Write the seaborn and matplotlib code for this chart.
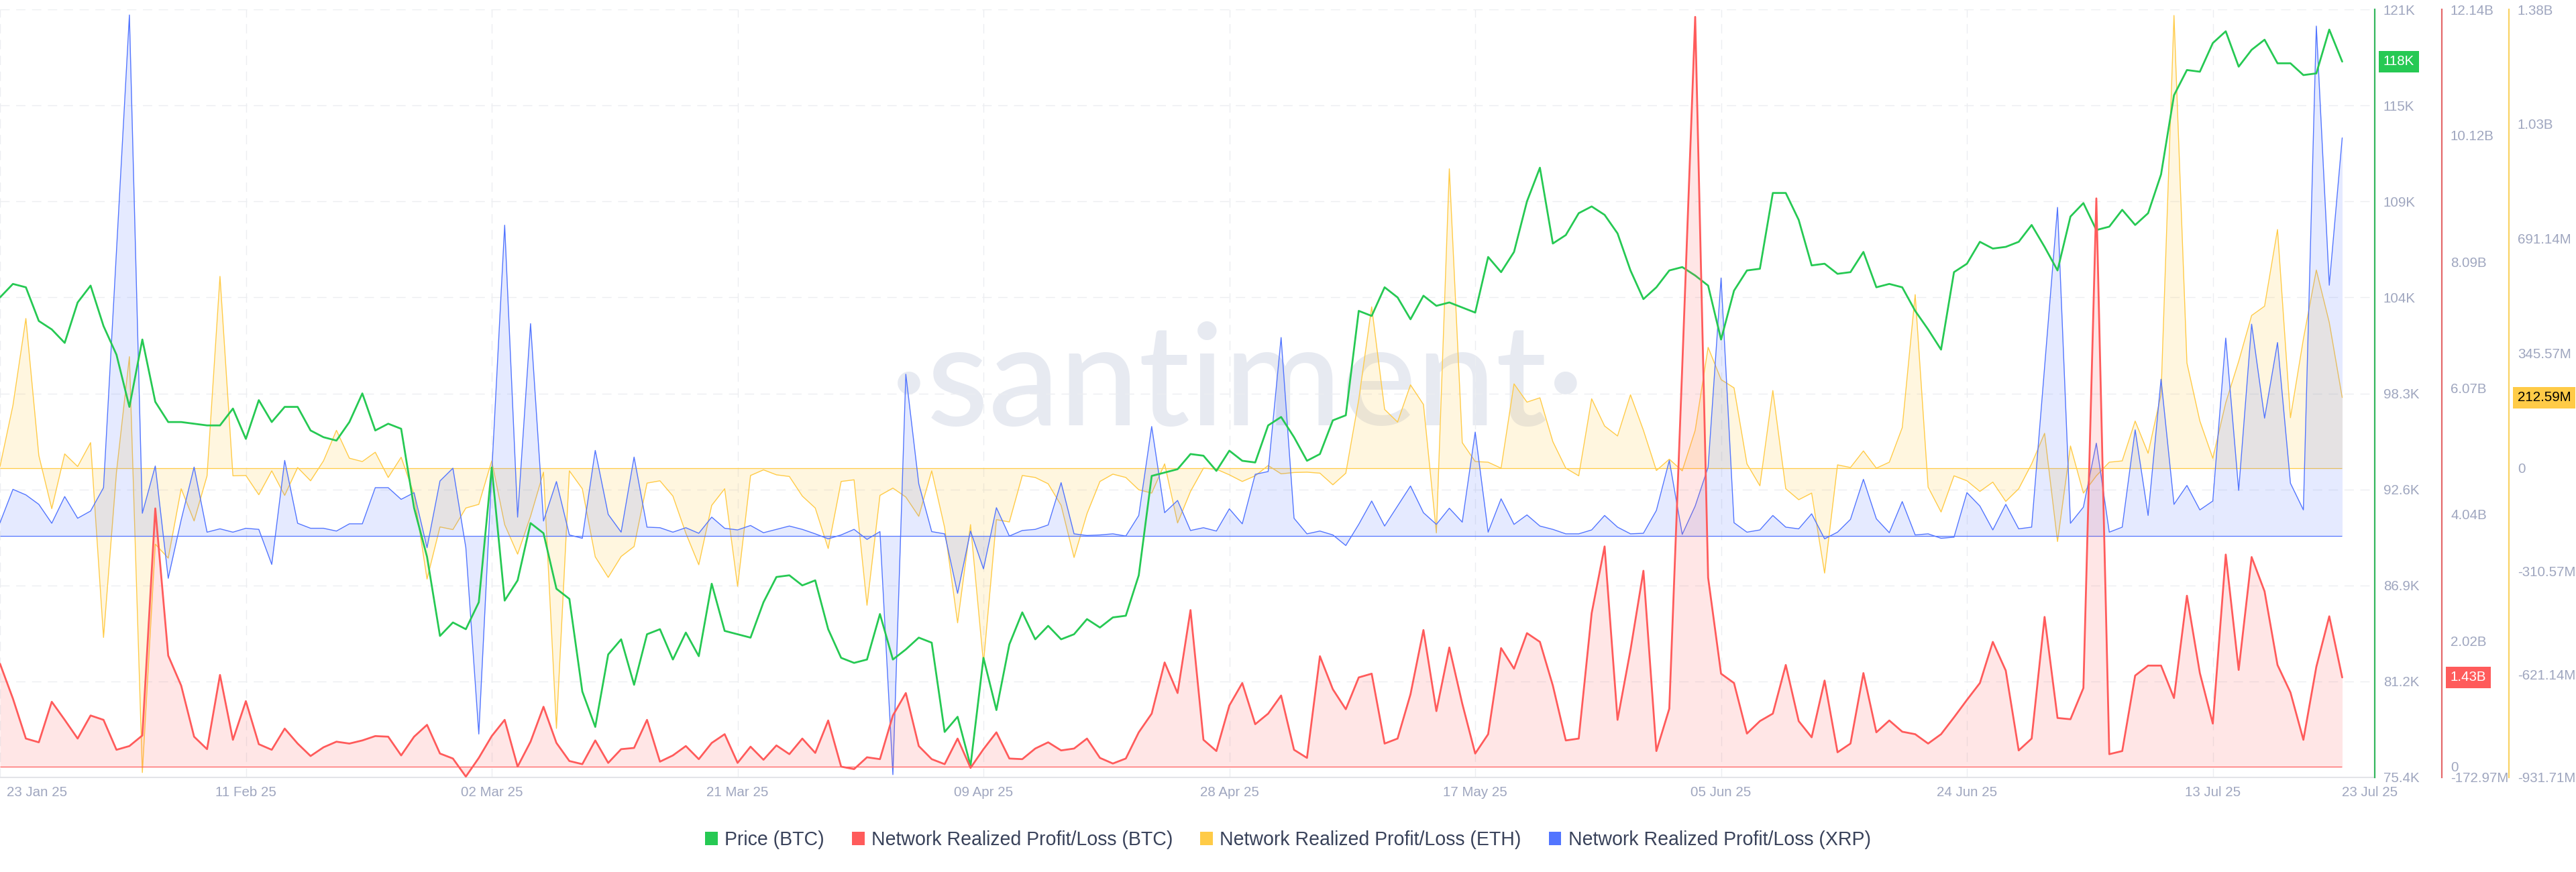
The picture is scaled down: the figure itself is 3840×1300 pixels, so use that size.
import matplotlib
matplotlib.use("Agg")
import matplotlib.pyplot as plt
from matplotlib.patches import Patch
from matplotlib.transforms import ScaledTranslation
import numpy as np
import pandas as pd
import seaborn as sns

start_date = "2025-01-23"
price_btc = [103.9,104.7,104.5,102.5,102.0,101.2,103.6,104.6,102.2,100.5,97.4,101.4,97.7,96.5,96.5,96.4,96.3,96.3,97.3,95.5,
97.8,96.5,97.4,97.4,96.0,95.6,95.4,96.5,98.2,96.0,96.4,96.1,91.4,88.5,83.8,84.6,84.2,85.8,93.8,85.9,
87.1,90.5,89.9,86.6,86.0,80.5,78.4,82.7,83.6,80.9,83.9,84.2,82.4,84.0,82.6,86.9,84.1,83.9,83.7,85.8,
87.3,87.4,86.8,87.1,84.2,82.5,82.2,82.4,85.1,82.4,83.0,83.7,83.4,78.1,79.0,76.1,82.5,79.4,83.3,85.2,
83.6,84.4,83.6,83.9,84.8,84.3,84.9,85.0,87.4,93.3,93.5,93.7,94.6,94.5,93.6,94.8,94.2,94.1,96.3,96.8,
95.6,94.2,94.6,96.6,96.9,103.1,102.8,104.5,103.9,102.6,104.0,103.4,103.6,103.3,103.0,106.3,105.4,106.6,109.6,111.6,
107.1,107.6,108.9,109.3,108.8,107.7,105.5,103.8,104.5,105.5,105.7,105.2,104.6,101.4,104.3,105.5,105.6,110.1,110.1,108.5,
105.8,105.9,105.3,105.4,106.6,104.5,104.7,104.5,103.1,102.0,100.8,105.4,105.9,107.2,106.8,106.9,107.2,108.2,106.9,105.5,
108.7,109.5,107.9,108.1,109.1,108.2,108.9,111.2,115.9,117.4,117.3,119.0,119.7,117.6,118.6,119.2,117.8,117.8,117.1,117.2,
119.8,117.9]
pl_btc = [1.65,1.09,.45,.39,1.04,.75,.45,.82,.75,.27,.33,.50,4.14,1.78,1.30,.48,.28,1.47,.43,1.05,
.36,.27,.61,.37,.17,.31,.40,.37,.42,.49,.48,.18,.48,.67,.21,.13,-.16,.14,.49,.75,
0,.40,.96,.38,.09,.04,.42,.06,.28,.30,.75,.08,.18,.33,.12,.38,.52,.06,.32,.11,
.34,.20,.45,.22,.74,0,-.04,.15,.12,.82,1.18,.33,.12,.04,.45,-.02,.28,.55,.13,.12,
.29,.39,.26,.29,.45,.14,.05,.13,.55,.85,1.67,1.18,2.51,.43,.25,.98,1.34,.68,.85,1.14,
.27,.14,1.77,1.24,.92,1.43,1.49,.37,.45,1.16,2.19,.89,1.91,1.01,.21,.52,1.90,1.57,2.14,2.00,
1.30,.42,.45,2.46,3.53,.75,1.87,3.14,.25,.93,6.41,12.02,3.03,1.49,1.34,.53,.73,.85,1.63,.73,
.47,1.38,.23,.37,1.50,.55,.74,.56,.52,.37,.52,.79,1.07,1.34,2.00,1.54,.26,.45,2.40,.78,
.76,1.26,9.11,.20,.25,1.46,1.62,1.62,1.10,2.74,1.50,.69,3.40,1.55,3.36,2.81,1.63,1.19,.43,1.60,
2.41,1.43]
pl_eth = [5,189,451,38,-122,43,5,77,-510,-12,336,-917,-229,-271,-62,-159,-23,578,-23,-22,
-80,-8,-82,2,-38,22,114,30,20,48,-28,33,-79,-334,-177,-185,-120,-109,22,-170,
-259,-145,-12,-784,-8,-62,-267,-329,-266,-236,-45,-38,-84,-196,-291,-112,-62,-356,-22,-5,
-20,-25,-84,-120,-242,-40,-35,-413,-82,-60,-87,-145,-8,-179,-466,-170,-588,-155,-162,-22,
-28,-47,-112,-269,-137,-40,-18,-28,-65,-75,13,-165,-70,0,-3,-20,-40,-23,8,-17,
-13,-12,-15,-50,-15,206,486,177,139,251,192,-195,902,77,20,18,0,254,199,212,
80,0,-23,209,127,97,221,114,-7,27,-8,114,364,267,242,13,-53,234,-62,-95,
-75,-316,10,2,52,0,18,122,523,-57,-132,-23,-38,-70,-42,-100,-62,13,105,-221,
67,-75,-23,18,22,142,45,222,1364,317,142,30,197,322,460,488,719,152,389,597,
439,213]
# XRP has no visible axis in the source: values are on an estimated relative scale.
pl_xrp = [24,84,74,57,23,71,32,45,87,512,937,41,126,-76,29,124,7,13,7,14,
12,-51,136,23,14,14,9,22,22,87,87,66,78,-21,99,122,-21,-356,114,559,
34,382,27,98,2,-4,154,39,7,142,16,15,7,15,5,34,14,11,19,6,
12,18,12,4,-5,2,12,-6,8,-429,291,94,8,4,-103,9,-59,51,0,10,
12,20,96,4,1,2,4,0,37,197,42,64,10,15,9,49,22,111,116,357,
32,4,9,2,-17,21,63,18,54,90,42,21,50,25,187,7,67,21,38,18,
12,4,4,11,37,16,4,5,46,136,3,54,124,464,24,7,11,37,16,13,
40,-5,7,30,102,31,6,62,2,4,-4,-2,78,54,11,57,13,16,304,591,
23,52,167,7,16,191,37,282,57,91,47,63,356,82,381,212,348,95,47,917,
451,716]

x_tick_dates = ["2025-01-23","2025-02-11","2025-03-02","2025-03-21","2025-04-09",
                "2025-04-28","2025-05-17","2025-06-05","2025-06-24","2025-07-13"]
x_tick_labels = ["23 Jan 25","11 Feb 25","02 Mar 25","21 Mar 25","09 Apr 25",
                 "28 Apr 25","17 May 25","05 Jun 25","24 Jun 25","13 Jul 25"]
x_last_date = "2025-07-23"
x_last_label = "23 Jul 25"
price_ticks = [75.4,81.1,86.8,92.5,98.2,103.9,109.6,115.3,121.0]
price_labels = ["75.4K","81.2K","86.9K","92.6K","98.3K","104K","109K","115K","121K"]
btc_ticks = [-0.17297,0,2.02,4.05,6.07,8.09,10.12,12.14]
btc_labels = ["-172.97M","0","2.02B","4.04B","6.07B","8.09B","10.12B","12.14B"]
eth_ticks = [-931.71,-621.14,-310.57,0,345.57,691.14,1036.71,1382.28]
eth_labels = ["-931.71M","-621.14M","-310.57M","0","345.57M","691.14M","1.03B","1.38B"]
xrp_range = (-434, 947)
names = ["Price (BTC)","Network Realized Profit/Loss (BTC)",
         "Network Realized Profit/Loss (ETH)","Network Realized Profit/Loss (XRP)"]
GREEN, RED, YELLOW, BLUE = "#26c953", "#ff5b5b", "#ffcb47", "#5275ff"
LABEL = "#9fa6bf"

sns.set_theme(style="white")
plt.rcParams["font.family"] = ["Liberation Sans", "DejaVu Sans"]
plt.rcParams["axes.unicode_minus"] = False

df = pd.DataFrame({"date": pd.date_range(start_date, periods=len(price_btc), freq="D"),
                   "price": price_btc, "btc": pl_btc, "eth": pl_eth, "xrp": pl_xrp})

W, H, DPI = 3840, 1300, 100
PX = 72 / DPI
L, R, T, B = 0, 3540, 14, 1159
fig = plt.figure(figsize=(W / DPI, H / DPI), dpi=DPI, facecolor="white")
base = fig.add_axes([L / W, 1 - B / H, (R - L) / W, (B - T) / H])
base.set_zorder(0)
eth_ax, xrp_ax, price_ax, btc_ax = base.twinx(), base.twinx(), base.twinx(), base.twinx()
for z, a in enumerate([eth_ax, xrp_ax, price_ax, btc_ax], start=1):
    a.set_zorder(z)
    a.patch.set_visible(False)

x0 = pd.Timestamp(start_date)
x1 = x0 + pd.Timedelta(days=(R - L) / 19.29)
base.set_xlim(x0, x1)

# grid, x axis
base.set_ylim(75.4, 121)
base.set_yticks(price_ticks)
base.tick_params(axis="y", left=False, labelleft=False)
base.set_xticks(pd.to_datetime(x_tick_dates))
base.set_xticklabels(x_tick_labels)
base.set_xticks([pd.Timestamp(x_last_date)], labels=[x_last_label], minor=True)
base.tick_params(axis="x", which="both", length=0, pad=13 * PX, labelsize=20.5 * PX, labelcolor=LABEL)
base.grid(True, which="major", color="#eceef1", linewidth=1.0, linestyle=(0, (10, 7)))
base.grid(False, which="minor")
first = base.get_xticklabels()[0]
first.set_ha("left")
first.set_transform(first.get_transform() + ScaledTranslation(10 / DPI, 0, fig.dpi_scale_trans))
for t in base.get_xticklabels(minor=True):
    t.set_ha("left")
for s in ["top", "left", "right"]:
    base.spines[s].set_visible(False)
base.spines["bottom"].set_color("#e3e4e8")
base.spines["bottom"].set_linewidth(1.5)

base.text(1845 / R, 1 - (634 - T) / (B - T), "\u00b7santiment\u00b7", transform=base.transAxes,
          ha="center", va="baseline", fontsize=152, family="Lato", weight="medium",
          color="#e7eaf1", zorder=0)


def draw(ax, col, color, lw, fill, alpha=0.15):
    sns.lineplot(data=df, x="date", y=col, ax=ax, color=color, linewidth=lw, legend=False,
                 errorbar=None, estimator=None)
    if fill:
        ax.fill_between(df["date"], df[col], 0, color=color, alpha=alpha, linewidth=0)
        ax.hlines(0, df["date"].iloc[0], df["date"].iloc[-1], color=color, linewidth=0.9)
    ax.set_xlabel("")
    ax.set_ylabel("")
    ax.set_xlim(x0, x1)
    for s in ["top", "left", "bottom", "right"]:
        ax.spines[s].set_visible(False)


draw(eth_ax, "eth", YELLOW, 1.0, True, alpha=0.17)
draw(xrp_ax, "xrp", BLUE, 1.0, True)
draw(price_ax, "price", GREEN, 2.0, False)
draw(btc_ax, "btc", RED, 2.0, True)
xrp_ax.set_ylim(*xrp_range)
xrp_ax.tick_params(axis="y", right=False, labelright=False)


def side_axis(ax, ticks, labels, lim, color, outward, box_val, box_text, box_color, text_color, box_dx):
    ax.set_ylim(*lim)
    ax.set_yticks(ticks)
    ax.set_yticklabels(labels)
    ax.tick_params(axis="y", length=0, pad=13 * PX, labelsize=20.5 * PX, labelcolor=LABEL)
    sp = ax.spines["right"]
    sp.set_visible(True)
    sp.set_color(color)
    sp.set_linewidth(1.6)
    sp.set_position(("outward", outward * PX))
    ax.annotate(box_text, xy=(1, box_val), xycoords=ax.get_yaxis_transform(),
                xytext=((outward + box_dx) * PX, 0), textcoords="offset points",
                va="center", ha="left", fontsize=20.5 * PX, color=text_color,
                bbox=dict(boxstyle="square,pad=0.32", fc=box_color, ec="none"), zorder=20, annotation_clip=False)


side_axis(price_ax, price_ticks, price_labels, (75.4, 121), "#33b65c", 0, price_btc[-1], "118K", GREEN, "white", 13)
side_axis(btc_ax, btc_ticks, btc_labels, (-0.17297, 12.14), "#e4686a", 100, pl_btc[-1], "1.43B", RED, "white", 13)
side_axis(eth_ax, eth_ticks, eth_labels, (-931.71, 1382.28), "#f9d264", 200, pl_eth[-1], "212.59M", YELLOW, "black", 13)

handles = [Patch(facecolor=c, edgecolor="none") for c in [GREEN, RED, YELLOW, BLUE]]
fig.legend(handles, names, loc="center", bbox_to_anchor=(1920 / W, 1 - 1252 / H), ncol=4, frameon=False,
           fontsize=28.5 * PX, handlelength=0.65, handleheight=0.65, handletextpad=0.36,
           columnspacing=1.45, borderpad=0, labelcolor="#39425a")

fig.savefig("out.png", dpi=DPI, facecolor="white")
